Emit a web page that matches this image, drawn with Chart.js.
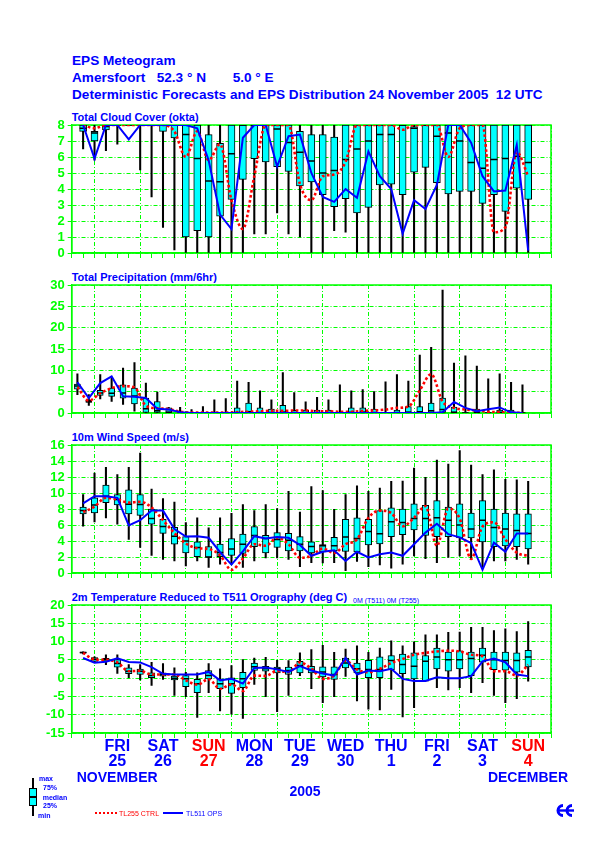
<!DOCTYPE html>
<html>
<head>
<meta charset="utf-8">
<script src="https://cdn.jsdelivr.net/npm/chart.js@4.4.0/dist/chart.umd.min.js"></script>
<style>
  body { margin:0; background:#fff; width:595px; height:842px; position:relative; overflow:hidden;
         font-family:"Liberation Sans", Arial, sans-serif; }
  .t { position:absolute; color:#0000ff; font-weight:bold; white-space:nowrap; line-height:1; }
  canvas { position:absolute; left:0; }
  .abs { position:absolute; }
</style>
</head>
<body>

<div class="t" style="left:72px;top:54px;font-size:13.6px;">EPS Meteogram</div>
<div class="t" style="left:72px;top:70.6px;font-size:13.6px;">Amersfoort</div>
<div class="t" style="left:156.7px;top:70.6px;font-size:13.6px;">52.3 ° N</div>
<div class="t" style="left:232.7px;top:70.6px;font-size:13.6px;">5.0 ° E</div>
<div class="t" style="left:72px;top:87.9px;font-size:13.6px;">Deterministic Forecasts and EPS Distribution 24 November 2005&nbsp; 12 UTC</div>

<div class="t" style="left:71.7px;top:112.1px;font-size:11px;">Total Cloud Cover (okta)</div>
<div class="t" style="left:71.7px;top:272.1px;font-size:11px;">Total Precipitation (mm/6hr)</div>
<div class="t" style="left:71.7px;top:432.1px;font-size:11px;">10m Wind Speed (m/s)</div>
<div class="t" style="left:71.7px;top:592.1px;font-size:11px;">2m Temperature Reduced to T511 Orography (deg C)</div>
<div class="t" style="left:353px;top:596.5px;font-size:7px;font-weight:normal;">0M (T511) 0M (T255)</div>

<canvas id="c1" width="595" height="144" style="top:117px"></canvas>
<canvas id="c2" width="595" height="144" style="top:277px"></canvas>
<canvas id="c3" width="595" height="144" style="top:437px"></canvas>
<canvas id="c4" width="595" height="210" style="top:597px"></canvas>

<!-- legend -->
<div class="abs" style="left:32px;top:778px;width:2px;height:38px;background:#000;"></div>
<div class="abs" style="left:29px;top:788px;width:6px;height:16px;background:#00ffff;border:1px solid #000;"></div>
<div class="abs" style="left:30px;top:796px;width:6px;height:2px;background:#000;"></div>
<div class="t" style="left:39px;top:774.6px;font-size:7px;">max</div>
<div class="t" style="left:43px;top:783.6px;font-size:7px;">75%</div>
<div class="t" style="left:42.7px;top:793.6px;font-size:7px;">median</div>
<div class="t" style="left:43px;top:801.6px;font-size:7px;">25%</div>
<div class="t" style="left:38px;top:811.6px;font-size:7px;">min</div>
<div class="abs" style="left:95px;top:812px;width:22px;border-top:2px dotted #ff0000;"></div>
<div class="t" style="left:119px;top:809.6px;font-size:7px;color:#ff0000;font-weight:normal;">TL255 CTRL</div>
<div class="abs" style="left:163px;top:812px;width:20px;height:2px;background:#0000ff;"></div>
<div class="t" style="left:186px;top:809.6px;font-size:7px;font-weight:normal;">TL511 OPS</div>

<svg class="abs" style="left:555px;top:803px" width="21" height="15" viewBox="0 0 21 15">
  <path d="M8 2.5 A5 5 0 1 0 8 12.5" fill="none" stroke="#0000ff" stroke-width="3"/>
  <path d="M17 2.5 A5 5 0 1 0 17 12.5" fill="none" stroke="#0000ff" stroke-width="3"/>
  <rect x="3" y="6.3" width="16" height="2.4" fill="#0000ff"/>
</svg>

<script>
const GREEN = '#00ff00';
const BLUE = '#0000ff';
const RED = '#ff0000';
const CYAN = '#00ffff';
const FONT = '"Liberation Sans", Arial, sans-serif';

// forecast steps (hours after 24 Nov 12 UTC)
const stepHours = [6,12,18,24,30,36,42,48,54,60,66,72,78,84,90,96,102,108,114,120,
  126,132,138,144,150,156,162,168,174,180,186,192,198,204,210,216,222,228,234,240];
const precipHours = [3,9,15,21,27,33,39,45,51,57,63,69,75,81,87,93,99,105,111,117,
  123,129,135,141,147,153,159,165,171,177,183,189,195,201,207,213,219,225,231,237];

const dayHours = [24,48,72,96,120,144,168,192,216,240];
const dayNames = ['FRI','SAT','SUN','MON','TUE','WED','THU','FRI','SAT','SUN'];
const dayNums = ['25','26','27','28','29','30','1','2','3','4'];

// Total cloud cover (okta)
const cloudMin = [6.5,5.8,6.4,6.8,8,5.2,3.5,1.6,0.2,0,0,0,0,0,0,1.2,1.2,2.5,1.2,1.0,
  0,0,1.4,1.3,0,0,0,0,0,0,0,0,0,0,0,0,0,0,0,0];
const cloudQ25 = [7.6,7.0,7.7,8,8,8,8,7.6,7.2,1.0,1.4,1.0,2.3,3.35,4.6,5.9,5.7,5.4,5.1,4.2,
  4.45,3.65,2.9,3.4,2.5,2.85,4.25,4.3,3.65,5.05,5.35,4.4,3.7,3.85,3.85,3.1,3.65,2.6,4.05,3.35];
const cloudMed = [7.8,7.5,7.9,8,8,8,8,8,8,7.4,5.9,4.5,4.45,6.2,8,8,8,7.75,6.9,6.3,
  5.75,5.0,5.15,5.85,6.5,7.0,7.4,7.4,8,7.8,8,7.3,7.5,7.0,5.65,5.3,5.85,5.9,6.05,5.65];
const cloudQ75 = [8,7.6,8,8,8,8,8,8,8,8,8,7.4,6.85,8,8,8,8,8,8,7.6,
  7.4,7.4,7.25,8,8,8,8,8,8,7.9,8,8,8,8,8,8,8,8,8,8];
const cloudMax = [8,8,8,8,8,8,8,8,8,8,8,8,8,8,8,8,8,8,8,8,
  8,8,8,8,8,8,8,8,8,8,8,8,8,8,8,8,8,8,8,8];
const cloudCtrl = [8,7.8,8,8,8,8,8,8,7.6,6.0,7.6,5.8,6.8,3.3,1.5,4.8,8,8,8,4.3,
  3.3,4.8,4.9,5.7,8,8,8,8,7.7,8,8,8,6.0,7.8,8,8,1.3,1.6,6.3,4.8];
const cloudOps = [8,5.9,8,8,7.1,8,8,8,8,8,7.8,5.8,2.4,1.5,7.2,8,8,5.4,7.3,7.4,
  5.0,3.5,3.2,4.0,3.45,6.35,4.8,4.0,1.2,3.3,2.75,4.25,8,8,6.9,4.8,3.85,3.9,6.75,0.15];

// Total precipitation (mm/6hr)
const precipMin = [4.3,1.8,3.3,2.7,2.0,0.4,0,0,0,0,0,0,0,0,0,0,0,0,0,0,
  0,0,0,0,0,0,0,0,0,0,0,0,0,0,0,0,0,0,0,0];
const precipQ25 = [5.6,2.5,4.1,3.9,3.5,2.1,0,0,0,0,0,0,0,0,0,0,0,0,0,0,
  0,0,0,0,0,0,0,0,0,0,0,0,0,0,0,0,0,0,0,0];
const precipMed = [6.3,2.7,4.7,4.6,4.7,4.0,1.0,0.5,0.2,0,0,0,0,0,0,0.3,0,0,0.2,0,
  0,0,0,0,0.1,0.2,0,0,0,0.2,0.3,0.5,0.8,0.2,0,0.1,0,0.1,0,0];
const precipQ75 = [6.8,2.95,5.3,5.85,6.6,5.85,3.5,2.7,1.2,0,0,0,0,0,1.2,2.3,1.2,0.9,1.8,0.6,
  0.7,0.7,0.7,0.2,1.2,1.2,0.9,0.1,0.7,1.5,1.5,2.3,3.5,1.4,0.1,0.9,0.1,0.7,0.7,0];
const precipMax = [9.2,4.3,9.0,8.2,10.5,11.8,7.0,4.9,1.3,1.3,0.8,1.5,3.1,3.4,7.5,7.2,5.2,3.1,9.5,4.8,
  2.6,3.7,3.1,6.6,5.2,5.5,5.0,7.3,9.0,7.5,13.6,15.4,28.8,11.7,13.4,11.0,8.0,9.2,7.2,6.6];
const precipCtrl = [6.1,2.9,4.6,5.8,6.3,6.0,1.7,1.1,0.9,0.3,0.1,0.1,0.1,0.1,0.2,0.3,0.4,0.5,0.5,0.6,
  0.6,0.4,0.4,0.3,0.3,0.5,0.6,0.8,1.2,1.5,5.3,9.1,2.7,1.2,0.8,0.6,0.3,0.2,0.1,0];
const precipOps = [7.2,3.5,7.0,8.6,3.9,3.8,3.5,1.0,0.8,0.2,0,0,0,0,0,0,0,0,0,0,
  0,0,0,0,0,0,0,0,0,0,0,0,0.2,2.6,1.2,0.4,0.9,1.3,0.15,0];

// 10m wind speed (m/s)
const windMin = [5.85,6.4,6.9,6.1,4.2,3.2,2.2,1.7,1.5,0.9,1.5,0.7,1.1,1.1,0.7,1.5,1.9,1.9,1.7,0.8,
  1.3,1.25,1.3,0.3,1.45,0.8,1.0,0.6,1.1,2.15,1.8,1.3,1.95,2.15,1.75,0.8,1.5,1.5,1.7,1.1];
const windQ25 = [7.4,7.5,8.8,8.5,7.4,7.2,6.1,4.95,3.6,2.5,2.05,1.95,2.05,2.2,2.45,3.3,2.5,3.2,2.75,2.75,
  2.5,2.65,2.75,2.7,2.65,3.5,3.65,4.55,4.8,5.4,4.7,4.55,4.55,4.4,4.4,3.9,3.3,3.4,3.3,3.0];
const windMed = [7.8,8.5,9.6,9.2,8.6,8.55,6.8,5.8,4.6,4.0,3.2,2.0,2.55,3.0,3.6,4.7,4.3,4.2,4.1,3.6,
  3.3,3.4,3.4,4.5,4.3,5.2,4.9,6.4,6.3,6.8,6.8,6.9,6.6,6.0,5.5,6.6,5.7,5.5,5.3,4.95];
const windQ75 = [8.25,9.4,11.0,9.8,10.4,9.8,8.0,6.7,5.7,4.55,3.9,3.3,3.6,4.3,4.85,5.8,4.7,5.05,4.95,4.55,
  3.9,3.55,4.45,6.7,6.9,6.7,7.8,8.15,8.0,8.65,8.45,9.05,8.25,8.65,7.5,9.05,8.0,7.5,7.4,7.4];
const windMax = [9.8,12.5,13.2,12.3,13.2,15.0,10.5,9.3,8.85,6.3,6.9,5.65,6.9,7.45,8.55,7.8,8.55,8.05,10.2,7.6,
  10.8,10.3,7.95,9.8,10.9,10.2,10.6,11.45,11.5,13.1,11.95,14.1,13.6,15.3,13.5,12.3,12.9,11.7,11.65,11.45];
const windCtrl = [7.6,8.3,9.4,9.2,8.8,8.9,8.2,6.6,5.0,3.7,3.1,3.0,2.2,0.4,1.8,3.6,3.4,4.4,3.6,1.9,
  2.15,3.05,2.5,3.6,4.2,6.9,7.8,7.5,5.85,6.9,8.35,3.4,8.05,6.8,1.75,5.8,6.35,4.2,2.55,2.15];
const windOps = [8.7,9.6,9.6,9.4,5.95,6.6,7.8,7.8,5.5,4.55,4.6,4.4,2.6,1.05,2.7,4.6,4.3,4.5,4.4,3.5,
  2.15,2.65,2.85,1.5,2.65,1.95,2.35,2.55,2.15,3.6,5.05,6.15,4.85,4.45,3.75,0.4,3.8,2.65,4.95,4.95];

// 2m temperature (deg C)
const tempMin = [6.6,4.2,3.7,1.3,0.1,-0.5,-2.0,-0.35,-4.7,-5.05,-10.75,-4.0,-8.95,-9.85,-11.0,-1.7,-5.05,-9.2,-4.7,0.7,
  -2.9,-6.7,-5.05,0.5,-6.25,-8.5,-8.7,-3.05,-10.6,-8.05,-0.65,-2.6,-3.25,-2.6,-4.0,-1.25,-4.7,-6.7,-5.6,-0.8];
const tempQ25 = [6.8,4.6,4.6,3.0,1.2,1.0,0.1,0.55,-0.5,-2.35,-4.0,-0.2,-2.9,-4.15,-2.6,2.1,1.9,1.45,1.0,1.45,
  1.45,0.35,-0.35,2.8,1.45,0.1,0.1,2.35,1.25,-0.2,-0.8,2.55,1.9,2.55,0.7,4.35,2.35,2.2,1.6,3.1];
const tempMed = [7.0,5.2,5.05,4.0,1.9,1.9,0.7,1.0,0.0,-0.2,-1.55,0.7,-1.55,-1.55,-0.2,3.1,2.55,2.55,2.1,3.45,
  2.35,1.7,1.0,4.15,2.55,2.35,2.35,4.8,3.7,3.25,4.6,5.8,5.05,5.05,5.35,6.25,5.05,4.8,4.8,5.8];
const tempQ75 = [7.1,5.6,5.4,5.05,2.8,2.5,1.45,1.45,0.55,0.7,-0.35,2.1,-0.2,0.1,1.6,4.15,3.25,3.0,3.0,4.6,
  3.25,3.1,3.1,5.5,4.15,4.9,5.8,6.2,6.6,6.9,6.2,8.2,7.15,7.5,7.15,8.2,7.15,7.15,6.9,7.6];
const tempMax = [7.2,5.8,6.4,6.4,3.7,3.7,4.3,4.0,2.8,1.6,1.45,4.0,2.55,3.45,5.05,5.5,5.7,4.9,4.8,6.9,
  7.8,8.95,7.05,7.95,8.85,7.05,8.25,10.2,8.85,9.9,11.85,11.85,12.5,12.6,13.9,13.9,13.0,13.5,12.75,15.45];
const tempCtrl = [6.9,5.1,5.0,4.3,1.9,2.0,1.0,1.0,1.0,-0.6,-1.8,-0.3,-2.9,-1.7,-3.5,0.7,0.6,2.0,1.6,4.3,
  2.6,-0.2,0.7,4.8,2.35,1.6,2.55,4.15,5.25,6.4,6.9,7.3,7.5,7.3,6.4,5.95,1.9,1.9,0.7,3.7];
const tempOps = [5.5,4.2,4.5,5.4,4.4,4.3,3.0,1.2,1.0,1.0,1.0,1.7,-0.6,-0.2,-1.5,2.8,2.9,2.4,1.7,3.3,
  2.1,1.25,0.7,5.5,1.0,2.1,1.9,2.55,-0.2,-0.8,-0.8,0.25,0.0,0.0,0.55,4.6,5.35,4.35,1.0,0.55];

// tick marks every 6 h across the 10.5 day window
const tickHours = [];
for (let h = 0; h <= 252; h += 6) tickHours.push(h);

const framePlugin = {
  id: 'frame',
  beforeDatasetsDraw(chart) {
    const a = chart.chartArea, c = chart.ctx;
    c.save();
    c.strokeStyle = GREEN; c.lineWidth = 1.5;
    c.strokeRect(a.left, a.top, a.right - a.left, a.bottom - a.top);
    c.restore();
  }
};

const dayPlugin = {
  id: 'days',
  afterDraw(chart) {
    const c = chart.ctx, x = chart.scales.x, a = chart.chartArea, b = a.bottom;
    c.save();
    c.textAlign = 'center'; c.textBaseline = 'middle';
    c.font = 'bold 16px ' + FONT;
    dayHours.forEach((h, i) => {
      const px = x.getPixelForValue(h);
      c.fillStyle = dayNames[i] === 'SUN' ? RED : BLUE;
      c.fillText(dayNames[i], px, b + 14);
      c.fillText(dayNums[i], px, b + 29);
    });
    c.font = 'bold 14px ' + FONT; c.fillStyle = BLUE;
    c.textAlign = 'left'; c.fillText('NOVEMBER', a.left + 5, b + 45);
    c.textAlign = 'right'; c.fillText('DECEMBER', a.right + 17, b + 45);
    c.textAlign = 'center'; c.fillText('2005', 305, b + 59);
    c.restore();
  }
};

function boxDatasets(hrs, mn, q25, med, q75, mx, ctrl, ops, boxW) {
  return [
    { type: 'bar', data: hrs.map((h, i) => ({ x: h, y: [mn[i], mx[i]] })),
      backgroundColor: '#000', barThickness: 1.4, grouped: false, order: 5 },
    { type: 'bar', data: hrs.map((h, i) => ({ x: h, y: [q25[i], q75[i]] })),
      backgroundColor: CYAN, borderColor: '#000', borderWidth: 1, borderSkipped: false,
      barThickness: boxW, grouped: false, order: 4 },
    { type: 'line', data: hrs.map((h, i) => ({ x: h, y: med[i] })), showLine: false,
      pointStyle: 'line', pointRadius: boxW / 2, pointBorderColor: '#000', pointBorderWidth: 1.5, order: 3 },
    { type: 'line', data: hrs.map((h, i) => ({ x: h, y: ctrl[i] })),
      borderColor: RED, borderWidth: 2.6, borderDash: [2.6, 2.4], pointRadius: 0,
      cubicInterpolationMode: 'monotone', order: 2 },
    { type: 'line', data: hrs.map((h, i) => ({ x: h, y: ops[i] })),
      borderColor: BLUE, borderWidth: 2, pointRadius: 0, order: 1 }
  ];
}

function makePanel(id, datasets, yMin, yMax, yStep, bottomPad, extraPlugins) {
  return new Chart(document.getElementById(id), {
    type: 'bar',
    data: { datasets },
    options: {
      responsive: false, animation: false, events: [],
      layout: { padding: { top: 8, right: 44, left: 0, bottom: bottomPad } },
      plugins: { legend: { display: false }, tooltip: { enabled: false } },
      scales: {
        x: {
          type: 'linear', min: 0, max: 252, offset: false,
          afterBuildTicks: s => { s.ticks = tickHours.map(v => ({ value: v })); },
          afterFit: s => { s.height = 8; s.paddingLeft = 0; s.paddingRight = 0; },
          ticks: { display: false },
          grid: {
            offset: false,
            color: c => (c.tick && (c.tick.value - 12) % 24 === 0) ? GREEN : 'rgba(0,0,0,0)',
            tickColor: GREEN, tickLength: 5, lineWidth: 1
          },
          border: { color: GREEN, width: 1.5, dash: [4, 2, 1, 2] }
        },
        y: {
          min: yMin, max: yMax,
          afterFit: s => { s.width = 71.7; s.paddingTop = 0; s.paddingBottom = 0; },
          ticks: { stepSize: yStep, autoSkip: false, color: GREEN, padding: 3,
                   font: { family: FONT, size: 13, weight: 'bold' } },
          grid: { color: GREEN, tickColor: GREEN, tickLength: 4, lineWidth: 1 },
          border: { color: GREEN, width: 1.5, dash: [4, 2, 1, 2] }
        }
      }
    },
    plugins: [framePlugin].concat(extraPlugins || [])
  });
}

makePanel('c1', boxDatasets(stepHours, cloudMin, cloudQ25, cloudMed, cloudQ75, cloudMax, cloudCtrl, cloudOps, 7),
  0, 8, 1, 0);
makePanel('c2', boxDatasets(precipHours, precipMin, precipQ25, precipMed, precipQ75, precipMax, precipCtrl, precipOps, 6),
  0, 30, 5, 0);
makePanel('c3', boxDatasets(stepHours, windMin, windQ25, windMed, windQ75, windMax, windCtrl, windOps, 6.5),
  0, 16, 2, 0);
makePanel('c4', boxDatasets(stepHours, tempMin, tempQ25, tempMed, tempQ75, tempMax, tempCtrl, tempOps, 6.5),
  -15, 20, 5, 66, [dayPlugin]);
</script>
</body>
</html>
